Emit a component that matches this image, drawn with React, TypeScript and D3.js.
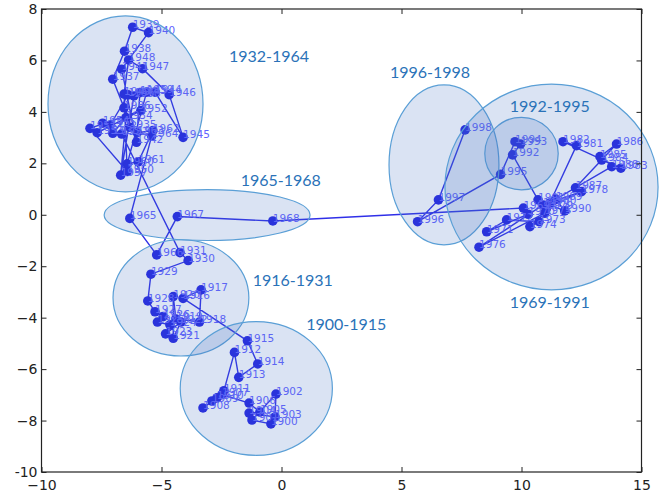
import React, { useEffect, useRef } from 'react';
import * as d3 from 'd3';

// one point per year, 1900 .. 1998
const firstYear = 1900;

const xVals = [
  // 1900-1915
  -0.44, -1.23, -0.23, -0.27, -1.35, -0.90, -1.35, -2.48, -3.27, -2.90, -2.69, -2.40, -1.96, -1.78, -0.99, -1.42,
  // 1916-1931
  -4.10, -3.35, -3.42, -4.40, -4.51, -4.51, -4.19, -4.83, -4.65, -5.17, -4.93, -5.27, -5.57, -5.44, -3.89, -4.23,
  // 1932-1964
  -6.66, -7.03, -6.48, -6.32, -6.56, -7.03, -6.54, -6.20, -5.54, -6.66, -6.04, -5.90, -5.27, -4.10, -4.68, -5.79,
  -6.37, -6.56, -6.43, -7.98, -5.86, -7.68, -7.45, -7.14, -6.39, -6.70, -6.15, -5.62, -6.43, -5.97, -5.36, -6.01, -5.41,
  // 1965-1968
  -6.32, -5.20, -4.34, -0.36,
  // 1969-1991
  10.08, 10.28, 8.55, 9.38, 10.73, 10.35, 10.97, 8.23, 10.90, 12.50, 11.04, 11.18, 12.29, 11.73, 14.14, 13.34,
  13.27, 13.96, 12.25, 13.76, 11.43, 11.80, 10.69,
  // 1992-1998
  9.63, 9.96, 9.73, 9.13, 5.67, 6.54, 7.65
];

const yVals = [
  // 1900-1915
  -8.13, -7.98, -6.97, -7.86, -7.71, -7.67, -7.32, -6.99, -7.51, -7.24, -7.12, -6.84, -5.35, -6.32, -5.80, -4.90,
  // 1916-1931
  -3.25, -2.92, -4.17, -4.05, -3.18, -4.80, -4.17, -4.63, -4.28, -4.17, -3.96, -3.77, -3.35, -2.31, -1.78, -1.47,
  // 1932-1964
  3.14, 3.17, 3.78, 3.40, 4.16, 5.27, 6.36, 7.29, 7.08, 5.66, 2.82, 4.75, 4.77, 3.01, 4.67, 5.68,
  6.02, 4.69, 1.68, 3.36, 4.05, 3.19, 3.56, 3.49, 4.66, 1.54, 4.62, 4.77, 1.98, 2.06, 3.27, 3.19, 3.06,
  // 1965-1968
  -0.14, -1.56, -0.07, -0.24,
  // 1969-1991
  0.26, 0.02, -0.66, -0.20, -0.27, -0.46, 0.06, -1.26, 0.38, 0.90, 0.25, 0.46, 2.69, 2.84, 1.81, 2.13,
  2.26, 2.75, 1.05, 1.87, 0.61, 0.15, 0.58,
  // 1992-1998
  2.33, 2.75, 2.84, 1.57, -0.27, 0.58, 3.30
];

// period clusters
const groupNames = ['1932-1964', '1965-1968', '1916-1931', '1900-1915', '1996-1998', '1992-1995', '1969-1991'];
const groupCx = [-6.50, -3.10, -4.19, -1.05, 6.77, 10.00, 11.25];
const groupCy = [4.31, -0.01, -3.23, -6.75, 1.94, 2.38, 1.08];
const groupRx = [3.23, 4.29, 2.83, 3.17, 2.29, 1.53, 4.44];
const groupRy = [3.42, 0.99, 2.26, 2.60, 3.11, 1.41, 4.00];
const groupLabelX = [-0.52, -0.03, 0.47, 2.70, 6.19, 11.18, 11.18];
const groupLabelY = [6.17, 1.35, -2.54, -4.28, 5.55, 4.23, -3.39];

const xTicks = [-10, -5, 0, 5, 10, 15];
const yTicks = [-10, -8, -6, -4, -2, 0, 2, 4, 6, 8];

const App = () => {
  const svgRef = useRef(null);

  useEffect(() => {
    const width = 661;
    const height = 495;
    const svg = d3.select(svgRef.current);
    svg.selectAll('*').remove();

    const xScale = d3.scaleLinear().domain([-10, 15]).range([41.5, 641.5]);
    const yScale = d3.scaleLinear().domain([-10, 8]).range([472, 9]);

    const points = xVals.map((x, i) => ({ year: firstYear + i, x, y: yVals[i] }));

    const line = d3.line()
      .x((d) => xScale(d.x))
      .y((d) => yScale(d.y));

    svg.append('path')
      .datum(points)
      .attr('d', line)
      .attr('fill', 'none')
      .attr('stroke', '#2f2fe8')
      .attr('stroke-width', 1.4);

    svg.append('g')
      .selectAll('circle')
      .data(points)
      .enter()
      .append('circle')
      .attr('cx', (d) => xScale(d.x))
      .attr('cy', (d) => yScale(d.y))
      .attr('r', 4.8)
      .attr('fill', '#2424e2');

    svg.append('g')
      .selectAll('text')
      .data(points)
      .enter()
      .append('text')
      .attr('x', (d) => xScale(d.x))
      .attr('y', (d) => yScale(d.y) + 1)
      .attr('font-family', 'DejaVu Sans')
      .attr('font-size', '10.5px')
      .attr('fill', '#6262ff')
      .text((d) => d.year);

    // ellipses sit on top, semi transparent
    const groups = groupNames.map((name, i) => ({
      name,
      cx: groupCx[i], cy: groupCy[i], rx: groupRx[i], ry: groupRy[i],
      lx: groupLabelX[i], ly: groupLabelY[i]
    }));

    svg.append('g')
      .selectAll('ellipse')
      .data(groups)
      .enter()
      .append('ellipse')
      .attr('cx', (d) => xScale(d.cx))
      .attr('cy', (d) => yScale(d.cy))
      .attr('rx', (d) => xScale(d.cx + d.rx) - xScale(d.cx))
      .attr('ry', (d) => yScale(d.cy - d.ry) - yScale(d.cy))
      .attr('fill', 'rgba(68,114,196,0.2)')
      .attr('stroke', '#5a9fd6')
      .attr('stroke-width', 1.2);

    svg.append('g')
      .selectAll('text')
      .data(groups)
      .enter()
      .append('text')
      .attr('x', (d) => xScale(d.lx))
      .attr('y', (d) => yScale(d.ly))
      .attr('dy', '0.35em')
      .attr('text-anchor', 'middle')
      .attr('font-family', 'Lato, sans-serif')
      .attr('font-size', '16px')
      .attr('fill', '#2a72b8')
      .text((d) => d.name);

    // frame with inward ticks on all sides
    const [x0, x1] = xScale.range();
    const [y0, y1] = yScale.range();
    svg.append('rect')
      .attr('x', x0)
      .attr('y', y1)
      .attr('width', x1 - x0)
      .attr('height', y0 - y1)
      .attr('fill', 'none')
      .attr('stroke', '#222')
      .attr('stroke-width', 1.2);

    const tickStyle = (g) => {
      g.select('.domain').remove();
      g.selectAll('line').attr('stroke', '#222');
      g.selectAll('text')
        .attr('font-family', 'DejaVu Sans')
        .attr('font-size', '14px')
        .attr('fill', '#222');
    };

    svg.append('g')
      .attr('transform', `translate(0,${y0})`)
      .call(d3.axisBottom(xScale).tickValues(xTicks).tickSize(-5).tickPadding(8)
        .tickFormat((d) => d3.format('d')(d).replace('-', '\u2212')))
      .call(tickStyle);

    svg.append('g')
      .attr('transform', `translate(0,${y1})`)
      .call(d3.axisTop(xScale).tickValues(xTicks).tickSize(-5).tickFormat(() => ''))
      .call(tickStyle);

    svg.append('g')
      .attr('transform', `translate(${x0},0)`)
      .call(d3.axisLeft(yScale).tickValues(yTicks).tickSize(-5).tickPadding(4)
        .tickFormat((d) => (d === -10 ? '-10' : d3.format('d')(d).replace('-', '\u2212'))))
      .call(tickStyle);

    svg.append('g')
      .attr('transform', `translate(${x1},0)`)
      .call(d3.axisRight(yScale).tickValues(yTicks).tickSize(-5).tickFormat(() => ''))
      .call(tickStyle);

    svg.attr('width', width).attr('height', height);
  }, []);

  return (
    <svg ref={svgRef} width={661} height={495}
      style={{ position: 'absolute', left: 0, top: 0, background: '#fff' }}>
    </svg>
  );
};

export default App;
